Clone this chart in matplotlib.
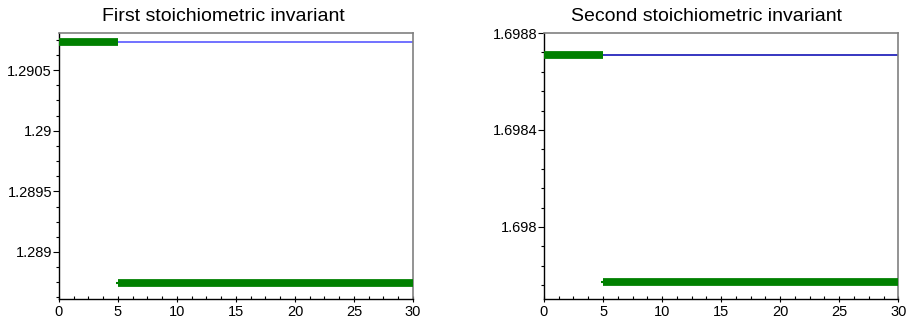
import matplotlib
matplotlib.use("Agg")
import matplotlib.pyplot as plt
from matplotlib.ticker import FixedLocator, MultipleLocator

plt.rcParams['font.family'] = ['Liberation Sans', 'DejaVu Sans']

# Data
titles = ["First stoichiometric invariant", "Second stoichiometric invariant"]
t_start, t_switch, t_end = 0, 5, 30
inv1_exact = 1.290731
inv1_before = 1.290731
inv1_after = 1.288744
inv2_exact = 1.698709
inv2_before = 1.698709
inv2_after = 1.697773

x_ticks = [0, 5, 10, 15, 20, 25, 30]
y1_ticks = [1.289, 1.2895, 1.29, 1.2905]
y1_labels = ["1.289", "1.2895", "1.29", "1.2905"]
y2_ticks = [1.698, 1.6984, 1.6988]
y2_labels = ["1.698", "1.6984", "1.6988"]

y1_lim = (1.288612, 1.290806)
y2_lim = (1.697703, 1.6988)

fig = plt.figure(figsize=(9.06, 3.22), dpi=100)
ax1 = fig.add_axes([0.0651, 0.0714, 0.3907, 0.8261])
ax2 = fig.add_axes([0.6004, 0.0714, 0.3911, 0.8261])

specs = [
    (ax1, titles[0], inv1_exact, inv1_before, inv1_after, y1_ticks, y1_labels, y1_lim, "#4a4aff", 0.000125, 0.465),
    (ax2, titles[1], inv2_exact, inv2_before, inv2_after, y2_ticks, y2_labels, y2_lim, "#0000b0", 0.00008, 0.46),
]

for ax, title, exact, before, after, yt, yl, ylim, bcol, yminor, tx in specs:
    ax.plot([t_start, t_end], [exact, exact], color=bcol, lw=1.1, zorder=2)
    ax.plot([t_start, t_switch], [before, before], color="#008000", lw=5.6,
            solid_capstyle="butt", zorder=3)
    ax.plot([t_switch - 0.2, t_switch], [after, after], color="#008000", lw=1.5,
            solid_capstyle="butt", zorder=3)
    ax.plot([t_switch, t_end], [after, after], color="#008000", lw=5.6,
            solid_capstyle="butt", zorder=3)
    ax.set_xlim(t_start, t_end)
    ax.set_ylim(*ylim)
    ax.xaxis.set_major_locator(FixedLocator(x_ticks))
    ax.set_xticklabels([str(v) for v in x_ticks])
    ax.xaxis.set_minor_locator(MultipleLocator(1.25))
    ax.yaxis.set_major_locator(FixedLocator(yt))
    ax.set_yticklabels(yl)
    ax.yaxis.set_minor_locator(MultipleLocator(yminor))
    ax.tick_params(axis='both', which='both', labelsize=10.5, top=False, right=False, width=0.8)
    ax.tick_params(axis='y', which='major', direction='out', length=4, pad=1)
    ax.tick_params(axis='y', which='minor', direction='out', length=2.5)
    ax.tick_params(axis='x', which='major', direction='inout', length=5, pad=2)
    ax.tick_params(axis='x', which='minor', direction='in', length=2.5)
    for s in ['left', 'bottom']:
        ax.spines[s].set_color('black')
        ax.spines[s].set_linewidth(1.0)
    for s in ['top', 'right']:
        ax.spines[s].set_color('#808080')
        ax.spines[s].set_linewidth(1.2)
    ax.set_title(title, fontsize=14, pad=8.5, x=tx)

fig.savefig("out.png", dpi=100)
